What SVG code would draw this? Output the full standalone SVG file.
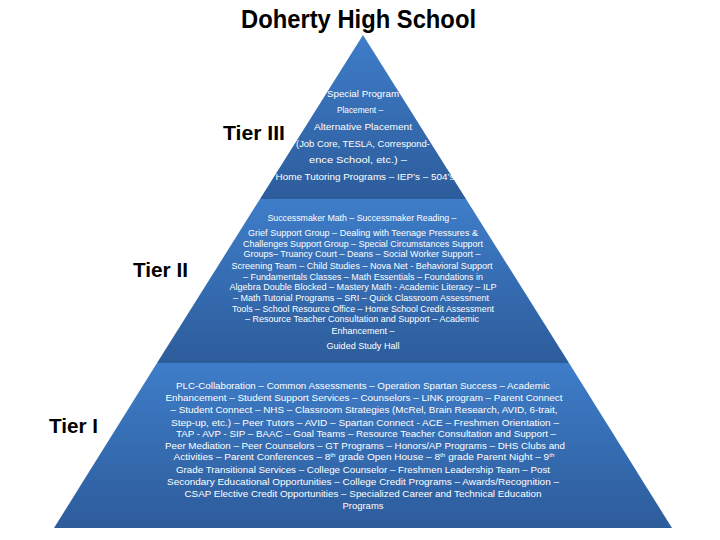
<svg xmlns="http://www.w3.org/2000/svg" width="720" height="540" viewBox="0 0 720 540">
<defs>
<linearGradient id="g" x1="0" y1="0" x2="0" y2="1">
<stop offset="0" stop-color="#3E7DC9"/>
<stop offset="1" stop-color="#2D5C9B"/>
</linearGradient>
</defs>
<style>
.tier{font-family:"Liberation Sans",Arial,sans-serif;font-weight:bold;font-size:21px;fill:#000}
.t{font-family:"Liberation Sans",Arial,sans-serif;font-size:9.5px;fill:#fff;text-anchor:middle}
.title{font-family:"Liberation Sans",Arial,sans-serif;font-weight:bold;font-size:25px;fill:#000}
.sup{font-size:6px}
</style>
<rect width="720" height="540" fill="#fff"/>
<text class="title" x="241" y="28" textLength="235" lengthAdjust="spacingAndGlyphs">Doherty High School</text>

<g id="tier3">
<polygon points="363,35 466,199 260,199" fill="url(#g)"/>
<text class="tier" x="223" y="140" textLength="62" lengthAdjust="spacingAndGlyphs">Tier III</text>
<text class="t" x="363" y="97" textLength="72" lengthAdjust="spacingAndGlyphs">Special Program</text>
<text class="t" x="360" y="113" textLength="46" lengthAdjust="spacingAndGlyphs">Placement –</text>
<text class="t" x="363" y="130" textLength="98" lengthAdjust="spacingAndGlyphs">Alternative Placement</text>
<text class="t" x="363" y="147" textLength="134" lengthAdjust="spacingAndGlyphs">(Job Core, TESLA, Correspond-</text>
<text class="t" x="358" y="163" textLength="98" lengthAdjust="spacingAndGlyphs">ence School, etc.) –</text>
<text class="t" x="365" y="180" textLength="179" lengthAdjust="spacingAndGlyphs">Home Tutoring Programs – IEP’s – 504’s</text>
</g>

<g id="tier2">
<polygon points="260,199 466,199 569,363 157,363" fill="url(#g)"/>
<text class="tier" x="133" y="277" textLength="55" lengthAdjust="spacingAndGlyphs">Tier II</text>
<text class="t" x="362" y="221" textLength="189" lengthAdjust="spacingAndGlyphs">Successmaker Math – Successmaker Reading –</text>
<text class="t" x="363" y="236" textLength="230" lengthAdjust="spacingAndGlyphs">Grief Support Group – Dealing with Teenage Pressures &amp;</text>
<text class="t" x="363" y="247" textLength="240" lengthAdjust="spacingAndGlyphs">Challenges Support Group – Special Circumstances Support</text>
<text class="t" x="362" y="257" textLength="237" lengthAdjust="spacingAndGlyphs">Groups– Truancy Court – Deans – Social Worker Support –</text>
<text class="t" x="362" y="269" textLength="261" lengthAdjust="spacingAndGlyphs">Screening Team – Child Studies – Nova Net  - Behavioral Support</text>
<text class="t" x="363" y="280" textLength="240" lengthAdjust="spacingAndGlyphs">– Fundamentals Classes – Math Essentials – Foundations in</text>
<text class="t" x="363" y="290" textLength="267" lengthAdjust="spacingAndGlyphs">Algebra Double Blocked – Mastery Math - Academic Literacy – ILP</text>
<text class="t" x="361" y="301" textLength="256" lengthAdjust="spacingAndGlyphs">– Math Tutorial Programs – SRI – Quick Classroom Assessment</text>
<text class="t" x="363" y="312" textLength="262" lengthAdjust="spacingAndGlyphs">Tools – School Resource Office – Home School Credit Assessment</text>
<text class="t" x="362" y="322" textLength="234" lengthAdjust="spacingAndGlyphs">– Resource Teacher Consultation and Support – Academic</text>
<text class="t" x="363" y="334" textLength="63" lengthAdjust="spacingAndGlyphs">Enhancement –</text>
<text class="t" x="363" y="349" textLength="73" lengthAdjust="spacingAndGlyphs">Guided Study Hall</text>
</g>

<g id="tier1">
<polygon points="157,363 569,363 672,528 54,528" fill="url(#g)"/>
<text class="tier" x="49" y="433" textLength="49" lengthAdjust="spacingAndGlyphs">Tier I</text>
<text class="t" x="363" y="389" textLength="374" lengthAdjust="spacingAndGlyphs">PLC-Collaboration – Common Assessments – Operation Spartan Success – Academic</text>
<text class="t" x="364" y="401" textLength="397" lengthAdjust="spacingAndGlyphs">Enhancement – Student Support Services – Counselors – LINK program – Parent Connect</text>
<text class="t" x="364" y="413" textLength="387" lengthAdjust="spacingAndGlyphs">– Student Connect – NHS – Classroom Strategies (McRel, Brain Research, AVID, 6-trait,</text>
<text class="t" x="365" y="426" textLength="388" lengthAdjust="spacingAndGlyphs">Step-up, etc.) – Peer Tutors – AVID – Spartan Connect - ACE – Freshmen Orientation –</text>
<text class="t" x="366" y="437" textLength="380" lengthAdjust="spacingAndGlyphs">TAP  - AVP  - SIP – BAAC – Goal Teams – Resource Teacher Consultation and Support –</text>
<text class="t" x="365" y="449" textLength="400" lengthAdjust="spacingAndGlyphs">Peer Mediation – Peer Counselors – GT Programs – Honors/AP Programs – DHS Clubs and</text>
<text class="t" x="364" y="460" textLength="381" lengthAdjust="spacingAndGlyphs">Activities – Parent Conferences – 8<tspan class="sup" dy="-3">th</tspan><tspan dy="3"> grade Open House – 8</tspan><tspan class="sup" dy="-3">th</tspan><tspan dy="3"> grade Parent Night – 9</tspan><tspan class="sup" dy="-3">th</tspan></text>
<text class="t" x="363" y="473" textLength="374" lengthAdjust="spacingAndGlyphs">Grade Transitional Services – College Counselor – Freshmen Leadership Team – Post</text>
<text class="t" x="363" y="485" textLength="392" lengthAdjust="spacingAndGlyphs">Secondary Educational Opportunities – College Credit Programs – Awards/Recognition –</text>
<text class="t" x="363" y="497" textLength="357" lengthAdjust="spacingAndGlyphs">CSAP Elective Credit Opportunities – Specialized Career and Technical Education</text>
<text class="t" x="363" y="509" textLength="41" lengthAdjust="spacingAndGlyphs">Programs</text>
</g>

<g id="connectors"/>
</svg>
